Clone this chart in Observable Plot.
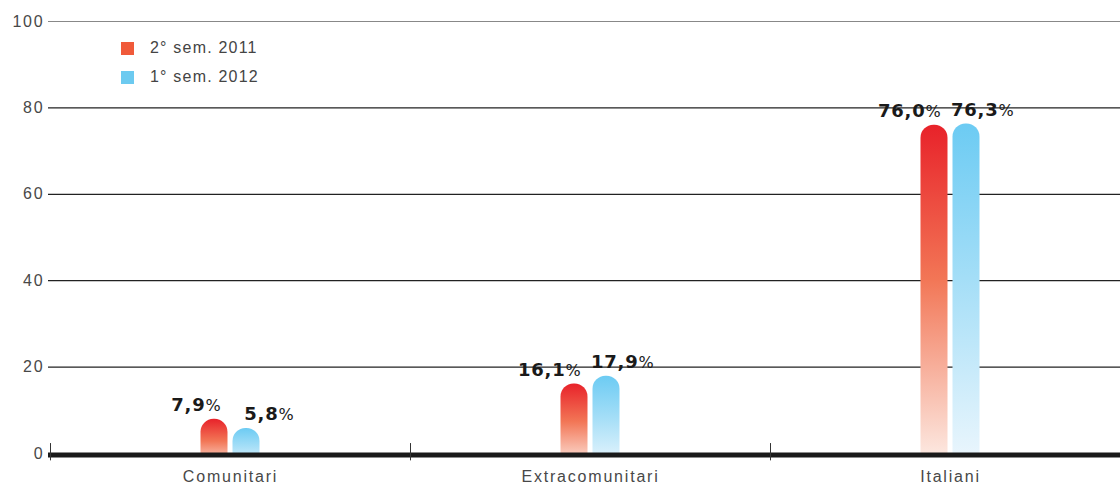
<!DOCTYPE html>
<html><head><meta charset="utf-8">
<script src="https://cdn.jsdelivr.net/npm/d3@7"></script>
<script src="https://cdn.jsdelivr.net/npm/@observablehq/plot@0.6"></script>
<style>
body{margin:0;background:#fff;}
#wrap{position:relative;width:1120px;height:488px;font-family:"Liberation Sans",Arial,sans-serif;}
#wrap svg g[aria-label="x-axis tick label"], #wrap svg g[aria-label="y-axis tick label"]{letter-spacing:1.8px;}
#wrap svg g.num{letter-spacing:0.8px;}
.leg{position:absolute;left:121px;height:16px;font-size:16px;color:#444;letter-spacing:1.2px;display:flex;align-items:center;}
.leg span.sw{display:inline-block;width:13px;height:13px;margin-right:16px;}
</style></head><body><div id="wrap"></div>
<script>
const categories = ["Comunitari", "Extracomunitari", "Italiani"];
const seriesNames = ["2° sem. 2011", "1° sem. 2012"];
const values2011 = [7.9, 16.1, 76.0];
const values2012 = [5.8, 17.9, 76.3];
const yTicks = [0, 20, 40, 60, 80, 100];
const gridTicks = [20, 40, 60, 80];
const topTick = [100];
const seriesColors = ["#f05a3a", "#6ccaf0"];

const d2011 = categories.map((c, i) => ({cat: c, v: values2011[i]}));
const d2012 = categories.map((c, i) => ({cat: c, v: values2012[i]}));
const fmt = v => d3.format(".1f")(v).replace(".", ",");

const numStyle = {fontFamily: "DejaVu Sans", fontWeight: "bold", fontSize: 18, fill: "#1a1a1a", lineAnchor: "bottom", dy: -8, className: "num"};
const pctStyle = {fontFamily: "DejaVu Sans", fontWeight: "normal", fontSize: 16, fill: "#1a1a1a", lineAnchor: "bottom", dy: -8};

const chart = Plot.plot({
  width: 1120,
  height: 488,
  marginLeft: 48,
  marginRight: 0,
  marginTop: 21,
  marginBottom: 35,
  style: {fontFamily: "Liberation Sans, Arial, sans-serif", fontSize: "16px", color: "#484848", background: "#fff"},
  x: {domain: categories, range: [50, 1130], padding: 0},
  y: {domain: [0, 100]},
  marks: [
    Plot.ruleY(gridTicks, {stroke: "#222", strokeWidth: 1.2}),
    Plot.ruleY(topTick, {stroke: "#888", strokeWidth: 1.2}),
    Plot.barY(d2011, {x: "cat", y1: -3.5, y2: "v", dx: -16, insetLeft: 166.5, insetRight: 166.5, rx: 13, fill: "url(#gradRed)", clip: true}),
    Plot.barY(d2012, {x: "cat", y1: -3.5, y2: "v", dx: 16, insetLeft: 166.5, insetRight: 166.5, rx: 13, fill: "url(#gradBlue)", clip: true}),
    Plot.ruleY([0], {stroke: "#1a1a1a", strokeWidth: 5, dy: 1.5}),
    Plot.ruleX(categories, {x: d => d, dx: -180, y1: -1.7, y2: 2.3, stroke: "#333", strokeWidth: 1}),
    Plot.text(d2011, {x: "cat", y: "v", text: d => fmt(d.v), textAnchor: "end", dx: -25, ...numStyle}),
    Plot.text(d2011, {x: "cat", y: "v", text: () => "%", textAnchor: "start", dx: -25, ...pctStyle}),
    Plot.text(d2012, {x: "cat", y: "v", text: d => fmt(d.v), textAnchor: "end", dx: 48, ...numStyle}),
    Plot.text(d2012, {x: "cat", y: "v", text: () => "%", textAnchor: "start", dx: 48, ...pctStyle}),
    Plot.axisY({ticks: yTicks, tickSize: 0, tickPadding: 4, tickFormat: d => d, label: null}),
    Plot.axisX({tickSize: 0, tickPadding: 17, label: null})
  ]
});

const defs = d3.select(chart).insert("defs", ":first-child");
const gr = defs.append("linearGradient").attr("id", "gradRed").attr("x1", 0).attr("y1", 0).attr("x2", 0).attr("y2", 1);
gr.append("stop").attr("offset", "0%").attr("stop-color", "#e8222a");
gr.append("stop").attr("offset", "45%").attr("stop-color", "#f27656");
gr.append("stop").attr("offset", "100%").attr("stop-color", "#fdf0ea");
const gb = defs.append("linearGradient").attr("id", "gradBlue").attr("x1", 0).attr("y1", 0).attr("x2", 0).attr("y2", 1);
gb.append("stop").attr("offset", "0%").attr("stop-color", "#6ccbf3");
gb.append("stop").attr("offset", "45%").attr("stop-color", "#a4def7");
gb.append("stop").attr("offset", "100%").attr("stop-color", "#eef7fd");

const wrap = document.getElementById("wrap");
wrap.appendChild(chart);
seriesNames.forEach((name, i) => {
  const div = document.createElement("div");
  div.className = "leg";
  div.style.top = (40 + i * 29) + "px";
  div.innerHTML = `<span class="sw" style="background:${seriesColors[i]}"></span>${name}`;
  wrap.appendChild(div);
});
</script></body></html>
